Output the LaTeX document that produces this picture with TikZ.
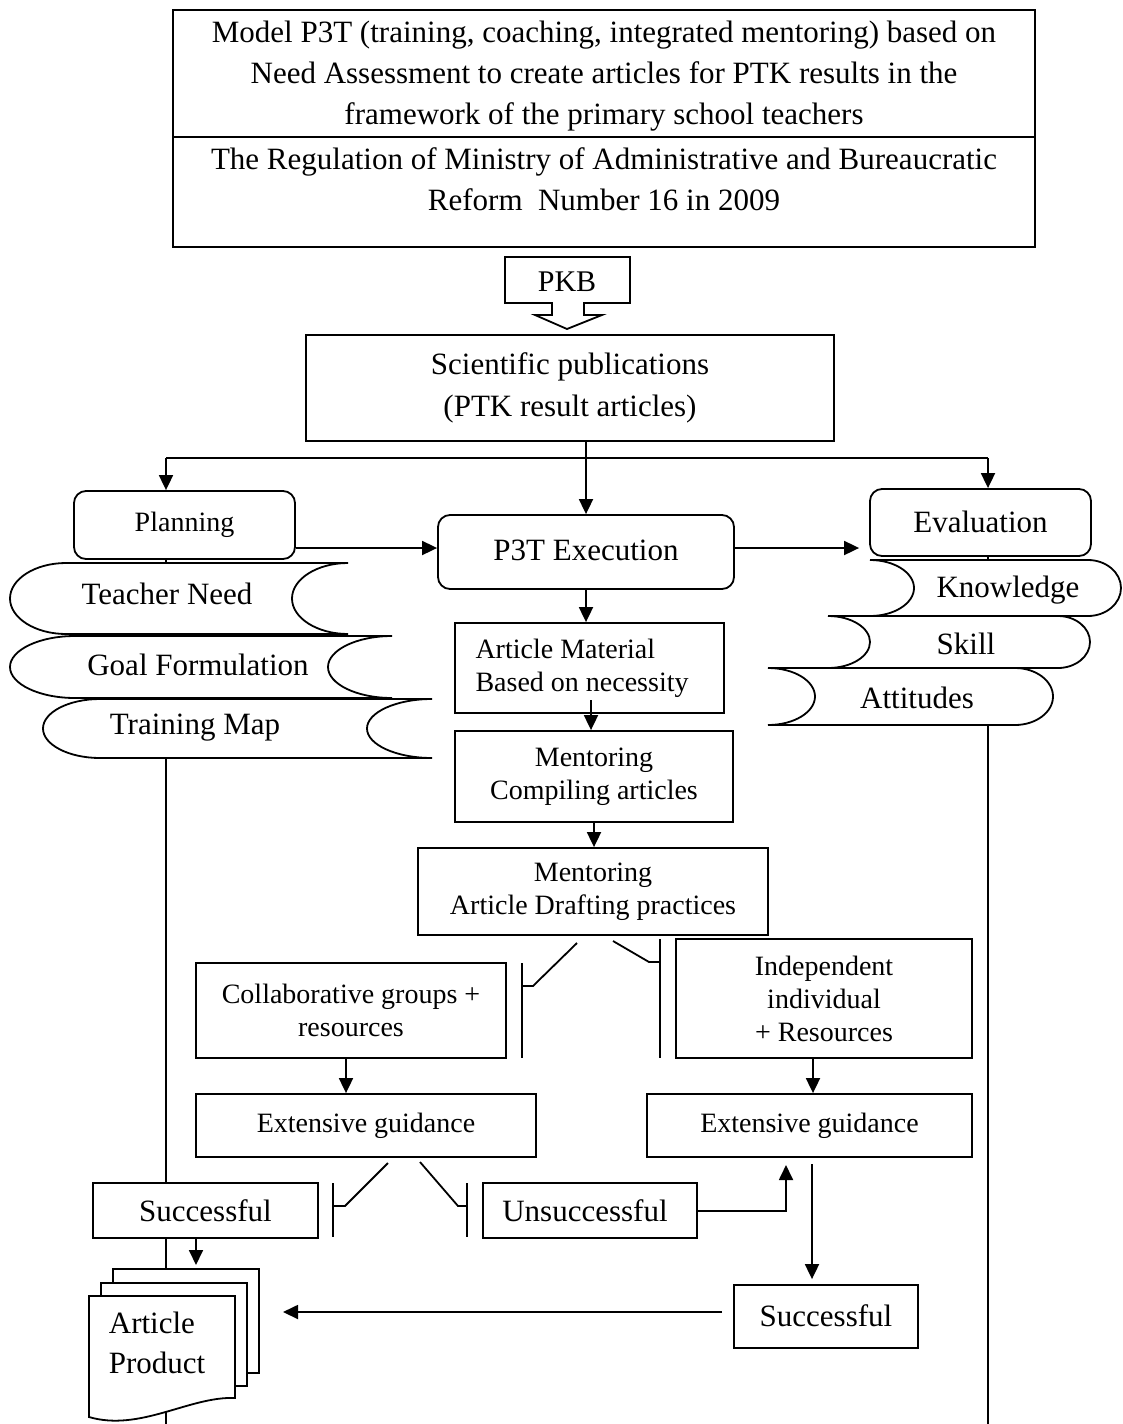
\documentclass[tikz,border=0pt]{standalone}
\usepackage{fontspec}
\setmainfont{Liberation Serif}
\usetikzlibrary{arrows.meta,calc}
\newcommand\fsa{\fontsize{28}{33}\selectfont}
\newcommand\fsb{\fontsize{31}{40}\selectfont}
\newcommand\fshead{\fontsize{31}{41}\selectfont}
% tape with a rounded left end and a notched right end:
% #1 top, #2 bottom, #3 start of straight edges (left), #4 leftmost x, #5 right end, #6 notch depth x
\newcommand\ltape[6]{%
  \filldraw[fill=white] (#3,#1) -- (#5,#1)
    .. controls ({#5-0.55*(#5-#6)},#1) and (#6,{(#1+#2)/2-0.275*(#2-#1)}) .. (#6,{(#1+#2)/2})
    .. controls (#6,{(#1+#2)/2+0.275*(#2-#1)}) and ({#5-0.55*(#5-#6)},#2) .. (#5,#2)
    -- (#3,#2)
    .. controls ({#3-0.55*(#3-#4)},#2) and (#4,{(#1+#2)/2+0.275*(#2-#1)}) .. (#4,{(#1+#2)/2})
    .. controls (#4,{(#1+#2)/2-0.275*(#2-#1)}) and ({#3-0.55*(#3-#4)},#1) .. (#3,#1) -- cycle;}
% tape with a notched left end and a rounded right end:
% #1 top, #2 bottom, #3 left end, #4 notch depth x, #5 end of straight edges (right), #6 rightmost x
\newcommand\rtape[6]{%
  \filldraw[fill=white] (#3,#1) -- (#5,#1)
    .. controls ({#5+0.55*(#6-#5)},#1) and (#6,{(#1+#2)/2-0.275*(#2-#1)}) .. (#6,{(#1+#2)/2})
    .. controls (#6,{(#1+#2)/2+0.275*(#2-#1)}) and ({#5+0.55*(#6-#5)},#2) .. (#5,#2)
    -- (#3,#2)
    .. controls ({#3+0.55*(#4-#3)},#2) and (#4,{(#1+#2)/2+0.275*(#2-#1)}) .. (#4,{(#1+#2)/2})
    .. controls (#4,{(#1+#2)/2-0.275*(#2-#1)}) and ({#3+0.55*(#4-#3)},#1) .. (#3,#1) -- cycle;}
\begin{document}
\begin{tikzpicture}[x=1pt,y=-1pt,
  line width=1.8pt,
  arr/.style={-{Triangle[length=15pt,width=14pt]}},
  box/.style={draw,fill=white,inner sep=0pt,align=center,font=\fsa},
  rbox/.style={box,rounded corners=12pt},
  lbl/.style={inner sep=0pt,align=center,font=\fsb},
]
\fill[white] (0,0) rectangle (1123,1424);
\useasboundingbox (0,0) rectangle (1123,1424);

% header with two sections
\node[draw,inner sep=0pt,minimum width=862pt,minimum height=237pt] (head) at (604,128.5) {};
\draw (head.west |- 0,137) -- (head.east |- 0,137);
\node[inner sep=0pt,align=center,font=\fshead] (headA) at (604,76) {Model P3T (training, coaching, integrated mentoring) based on\\Need Assessment to create articles for PTK results in the\\framework of the primary school teachers};
\node[inner sep=0pt,align=center,font=\fshead] (headB) at (604,179) {The Regulation of Ministry of Administrative and Bureaucratic\\Reform\ \ Number 16 in 2009};

% PKB block arrow
\draw[fill=white] (505,257) -- (630,257) -- (630,303) -- (584,303) -- (584,315) -- (602,315)
  -- (567,329) -- (535,315) -- (552,315) -- (552,303) -- (505,303) -- cycle;
\node[lbl,font=\fontsize{30}{36}\selectfont] (pkb) at (567,282) {PKB};

\node[box,font=\fontsize{31}{42}\selectfont,minimum width=528pt,minimum height=106pt] (sci) at (570,388) {Scientific publications\\(PTK result articles)};

% long side lines
\coordinate (busL) at (166,458);
\coordinate (busM) at (586,458);
\coordinate (busR) at (988,458);
\coordinate (endL) at (166,1424);
\coordinate (endR) at (988,1424);

\node[rbox,minimum width=221pt,minimum height=68pt] (plan) at (184.5,525) {\raisebox{4pt}{Planning}};
\node[rbox,font=\fsb,minimum width=296pt,minimum height=74pt] (exec) at (586,552) {\raisebox{3pt}{P3T Execution}};
\node[rbox,font=\fsb,minimum width=221pt,minimum height=67pt] (eval) at (980.5,522.5) {\raisebox{2pt}{Evaluation}};

\draw (plan.south -| busL) -- (endL);
\draw (eval.south -| busR) -- (endR);

\draw (sci.south -| busM) -- (busM);
\draw (busL) -- (busR);
\draw[arr] (busL) -- (busL |- plan.north);
\draw[arr] (busM) -- (exec.north);
\draw[arr] (busR) -- (busR |- eval.north);
\draw[arr] (plan.east |- 0,548) -- (exec.west |- 0,548);
\coordinate (evalIn) at ($(eval.west |- 0,548)+(-10,0)$);
\draw[arr] (exec.east |- 0,548) -- (evalIn);

% planning tapes
\ltape{563}{634}{66}{10}{348}{292}
\node[lbl] (need) at (167,594) {Teacher Need};
\ltape{636}{698}{75}{10}{392}{328}
\node[lbl] (goal) at (198,665) {Goal Formulation};
\ltape{699}{758}{100}{43}{432}{367}
\node[lbl] (map) at (195,728) {Training Map};

% evaluation tapes
\rtape{560}{616}{870}{914}{1088}{1121}
\node[lbl] (know) at (1008,590) {Knowledge};
\rtape{616}{668}{828}{870}{1058}{1090}
\node[lbl] (skill) at (966,644) {Skill};
\rtape{668}{725}{768}{815}{1015}{1053}
\node[lbl] (att) at (917,698) {Attitudes};

% execution chain
\node[box,align=flush left,text width=228pt,minimum width=269pt,minimum height=90pt] (mat) at (589.5,668) {Article Material\\Based on necessity};
\node[box,minimum width=278pt,minimum height=91pt] (comp) at (594,776.5) {Mentoring\\Compiling articles};
\node[box,minimum width=350pt,minimum height=87pt] (draft) at (593,891.5) {Mentoring\\Article Drafting practices};
\draw[arr] (exec.south) -- (exec.south |- mat.north);
\coordinate (matOut) at (591,700);
\draw[arr] (matOut) -- (matOut |- comp.north);
\draw[arr] (comp.south) -- (comp.south |- draft.north);

\node[box,minimum width=310pt,minimum height=95pt] (collab) at (351,1010.5) {Collaborative groups +\\resources};
\node[box,minimum width=296pt,minimum height=119pt] (indep) at (824,998.5) {Independent\\individual\\+ Resources};

% split brackets below the drafting box
\coordinate (bl1) at (577,943);
\coordinate (bl2) at (533,986);
\coordinate (bl3) at (522,986);
\coordinate (bl4) at (522,963);
\coordinate (bl5) at (522,1058);
\draw (bl1) -- (bl2) -- (bl3);
\draw (bl4) -- (bl5);
\coordinate (br1) at (613,941);
\coordinate (br2) at (649,962);
\coordinate (br3) at (660,962);
\coordinate (br4) at (660,939);
\coordinate (br5) at (660,1058);
\draw (br1) -- (br2) -- (br3);
\draw (br4) -- (br5);

\node[box,minimum width=340pt,minimum height=63pt] (extL) at (366,1125.5) {\raisebox{3pt}{Extensive guidance}};
\node[box,minimum width=325pt,minimum height=63pt] (extR) at (809.5,1125.5) {\raisebox{4pt}{Extensive guidance}};
\coordinate (cL) at (346,1058);
\coordinate (cR) at (813,1058);
\draw[arr] (cL) -- (cL |- extL.north);
\draw[arr] (cR) -- (cR |- extR.north);

\node[box,font=\fsb,minimum width=225pt,minimum height=55pt] (succL) at (205.5,1210.5) {Successful};
\node[box,font=\fsb,minimum width=214pt,minimum height=55pt] (unsucc) at (590,1210.5) {Unsuccessful\hspace*{10pt}};

% split brackets below the left guidance box
\coordinate (sl1) at (388,1163);
\coordinate (sl2) at (345,1206);
\coordinate (sl3) at (333,1206);
\coordinate (sl4) at (333,1183);
\coordinate (sl5) at (333,1237);
\draw (sl1) -- (sl2) -- (sl3);
\draw (sl4) -- (sl5);
\coordinate (sr1) at (420,1162);
\coordinate (sr2) at (458,1206);
\coordinate (sr3) at (467,1206);
\coordinate (sr4) at (467,1183);
\coordinate (sr5) at (467,1237);
\draw (sr1) -- (sr2) -- (sr3);
\draw (sr4) -- (sr5);

% retry loop and right-hand success
\coordinate (loopUp) at (786,1165);
\draw[arr] (unsucc.east |- 0,1211) -| (loopUp);
\node[box,font=\fsb,minimum width=184pt,minimum height=63pt] (succR) at (826,1316.5) {\raisebox{2pt}{Successful}};
\coordinate (downR) at (812,1164);
\draw[arr] (downR) -- ($(downR |- succR.north)+(0,-5)$);

% stacked article documents
\draw[fill=white] (113,1269) rectangle (259,1373);
\draw[fill=white] (101,1283) rectangle (247,1386);
\draw[fill=white] (89,1296) -- (235,1296) -- (235,1398)
  .. controls (190,1396) and (140,1432) .. (89,1417) -- cycle;
\node[lbl,align=left,anchor=west] (prod) at (108,1343) {Article\\Product};

\coordinate (docIn) at (283,1312);
\draw[arr] ($(succR.west |- 0,1312)+(-11,0)$) -- (docIn);
\coordinate (sdown) at (196,1238);
\draw[arr] (sdown) -- (196,1265);
\end{tikzpicture}
\end{document}
